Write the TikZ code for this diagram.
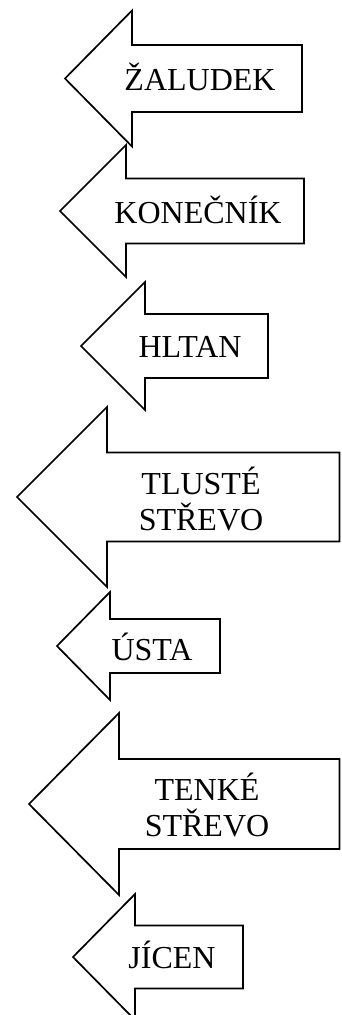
\documentclass[tikz,border=0pt]{standalone}
\usepackage{fontspec}
\setmainfont{Liberation Serif}
\begin{document}
\begin{tikzpicture}[x=1pt,y=-1pt,
  arr/.style={draw=black,line width=1.7pt,fill=white,line join=miter},
  lbl/.style={font=\fontsize{32}{35.5}\selectfont,inner sep=0pt,align=center,anchor=base}]
\useasboundingbox (0,0) rectangle (341,1015);
% left-pointing block arrow: tip x, centre y, head x, head half-height, body half-height, right x
\newcommand\blockarrow[6]{%
  \draw[arr] (#1,#2) -- (#3,{#2-#4}) -- (#3,{#2-#5}) -- (#6,{#2-#5})
    -- (#6,{#2+#5}) -- (#3,{#2+#5}) -- (#3,{#2+#4}) -- cycle;}
\blockarrow{65}{78.5}{132}{68}{33.5}{302}
\blockarrow{60}{211}{126}{66}{32.5}{304}
\blockarrow{81}{346}{145}{64}{32}{268}
\blockarrow{17}{497}{107}{90}{44.5}{339.5}
\blockarrow{57}{646}{110}{54}{27}{220}
\blockarrow{29}{804}{119}{91}{45}{339.5}
\blockarrow{73}{957}{135}{63}{31.5}{243}
% labels (multi-line labels sit on the baseline of their last line)
\node[lbl] (zaludek) at (200,90) {ŽALUDEK};
\node[lbl] (konecnik) at (198,223) {KONEČNÍK};
\node[lbl] (hltan) at (190,357) {HLTAN};
\node[lbl] (tluste) at (201,530) {TLUSTÉ\\STŘEVO};
\node[lbl] (usta) at (152,660) {ÚSTA};
\node[lbl] (tenke) at (207,836) {TENKÉ\\STŘEVO};
\node[lbl] (jicen) at (172,968) {JÍCEN};
\end{tikzpicture}
\end{document}
